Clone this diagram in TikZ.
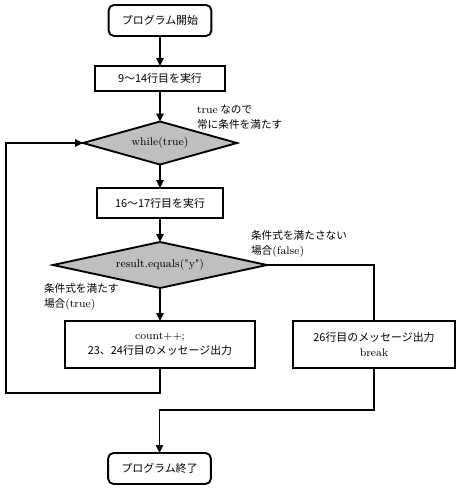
\documentclass[tikz,border=0pt]{standalone}
\usepackage{fontspec}
\newfontfamily\jp{Noto Sans CJK JP}
\usetikzlibrary{shapes.geometric,arrows.meta}
\newcommand{\cd}{\rmfamily\fontsize{8.3pt}{10pt}\selectfont}
\begin{document}
\begin{tikzpicture}[x=0.75pt,y=-0.75pt,
  every node/.style={inner sep=0pt,outer sep=0pt},
  base/.style={draw=black,line width=1.4pt,fill=white,align=center},
  term/.style={base,rounded corners=4pt,minimum width=77pt,minimum height=23.25pt,font=\jp\fontsize{8.2pt}{10pt}\selectfont},
  proc/.style={base,font=\jp\fontsize{8.2pt}{11.25pt}\selectfont},
  dec/.style={base,diamond,fill=black!25,aspect=3.5,font=\cd},
  lab/.style={align=left,anchor=west,font=\jp\fontsize{8pt}{11.25pt}\selectfont},
  conn/.style={line width=1.4pt},
  arr/.style={conn,-{Triangle[length=6pt,width=5.5pt]}}]
\useasboundingbox (0,0) rectangle (460,490);
\node[term] (start) at (160,20.5) {プログラム開始};
\node[proc,minimum width=97.5pt,minimum height=18.75pt] (b2) at (160,78.5) {9〜14行目を実行};
\node[dec,minimum width=115.5pt,minimum height=32.25pt] (d1) at (160,143) {while(true)};
\node[proc,minimum width=94.5pt,minimum height=22.5pt] (b3) at (160,203) {16〜17行目を実行};
\node[dec,minimum width=160.5pt,minimum height=34.5pt] (d2) at (160,265) {result.equals(\textquotedbl y\textquotedbl)};
\node[proc,minimum width=142.5pt,minimum height=35.25pt] (b4) at (160,344.5) {{\cd count++;}\\23、24行目のメッセージ出力};
\node[proc,minimum width=121.5pt,minimum height=35.25pt] (b5) at (374,344.5) {26行目のメッセージ出力\\{\cd break}};
\node[term] (end) at (159.5,468.5) {プログラム終了};
\node[lab] (l1) at (197,117.5) {{\cd true} なので\\常に条件を満たす};
\node[lab] (l2) at (251,243.5) {条件式を満たさない\\場合{\cd (false)}};
\node[lab] (l3) at (44,296.5) {条件式を満たす\\場合{\cd (true)}};
\coordinate (loop) at (6,393);
\coordinate (join) at (374,410);
\draw[arr] (start) -- (b2);
\draw[arr] (b2) -- (d1);
\draw[arr] (d1) -- (b3);
\draw[arr] (b3) -- (d2);
\draw[arr] (d2) -- (b4);
\draw[conn] (d2.east) -| (b5.north);
\draw[arr] (b4.south) |- (loop) |- (d1.west);
\draw[arr] (b5.south) -- (join) -| (end.north);
\end{tikzpicture}
\end{document}
